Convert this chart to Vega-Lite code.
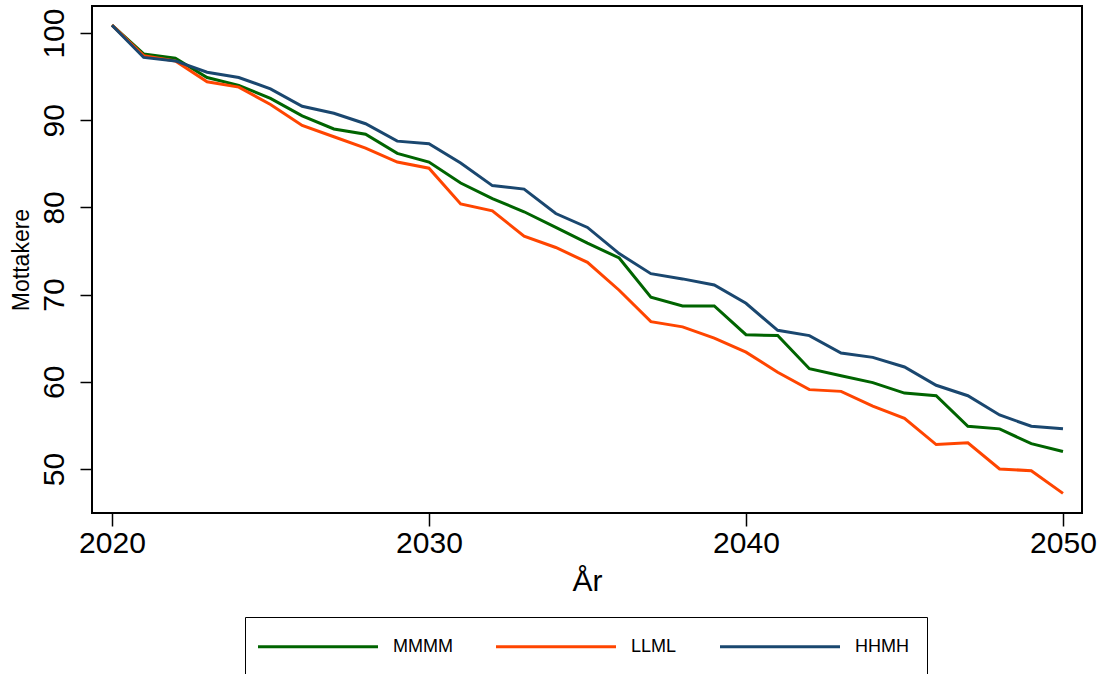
{
  "$schema": "https://vega.github.io/schema/vega-lite/v6.json",
  "width": 990,
  "height": 507,
  "autosize": {"type": "none"},
  "padding": {"left": 92, "top": 6, "right": 23, "bottom": 161},
  "background": "white",
  "config": {
    "view": {"stroke": "black", "strokeWidth": 2},
    "font": "Liberation Sans"
  },
  "data": {
    "values": [
      {"year": 2020, "scenario": "MMMM", "value": 100.9},
      {"year": 2021, "scenario": "MMMM", "value": 97.6},
      {"year": 2022, "scenario": "MMMM", "value": 97.1},
      {"year": 2023, "scenario": "MMMM", "value": 94.9},
      {"year": 2024, "scenario": "MMMM", "value": 94.0},
      {"year": 2025, "scenario": "MMMM", "value": 92.5},
      {"year": 2026, "scenario": "MMMM", "value": 90.5},
      {"year": 2027, "scenario": "MMMM", "value": 89.0},
      {"year": 2028, "scenario": "MMMM", "value": 88.4},
      {"year": 2029, "scenario": "MMMM", "value": 86.2},
      {"year": 2030, "scenario": "MMMM", "value": 85.2},
      {"year": 2031, "scenario": "MMMM", "value": 82.8},
      {"year": 2032, "scenario": "MMMM", "value": 81.0},
      {"year": 2033, "scenario": "MMMM", "value": 79.5},
      {"year": 2034, "scenario": "MMMM", "value": 77.7},
      {"year": 2035, "scenario": "MMMM", "value": 75.9},
      {"year": 2036, "scenario": "MMMM", "value": 74.2},
      {"year": 2037, "scenario": "MMMM", "value": 69.7},
      {"year": 2038, "scenario": "MMMM", "value": 68.7},
      {"year": 2039, "scenario": "MMMM", "value": 68.7},
      {"year": 2040, "scenario": "MMMM", "value": 65.4},
      {"year": 2041, "scenario": "MMMM", "value": 65.3},
      {"year": 2042, "scenario": "MMMM", "value": 61.5},
      {"year": 2043, "scenario": "MMMM", "value": 60.7},
      {"year": 2044, "scenario": "MMMM", "value": 59.9},
      {"year": 2045, "scenario": "MMMM", "value": 58.7},
      {"year": 2046, "scenario": "MMMM", "value": 58.4},
      {"year": 2047, "scenario": "MMMM", "value": 54.9},
      {"year": 2048, "scenario": "MMMM", "value": 54.6},
      {"year": 2049, "scenario": "MMMM", "value": 52.9},
      {"year": 2050, "scenario": "MMMM", "value": 52.0},
      {"year": 2020, "scenario": "LLML", "value": 100.9},
      {"year": 2021, "scenario": "LLML", "value": 97.4},
      {"year": 2022, "scenario": "LLML", "value": 96.8},
      {"year": 2023, "scenario": "LLML", "value": 94.4},
      {"year": 2024, "scenario": "LLML", "value": 93.8},
      {"year": 2025, "scenario": "LLML", "value": 91.8},
      {"year": 2026, "scenario": "LLML", "value": 89.4},
      {"year": 2027, "scenario": "LLML", "value": 88.1},
      {"year": 2028, "scenario": "LLML", "value": 86.8},
      {"year": 2029, "scenario": "LLML", "value": 85.2},
      {"year": 2030, "scenario": "LLML", "value": 84.5},
      {"year": 2031, "scenario": "LLML", "value": 80.4},
      {"year": 2032, "scenario": "LLML", "value": 79.6},
      {"year": 2033, "scenario": "LLML", "value": 76.7},
      {"year": 2034, "scenario": "LLML", "value": 75.4},
      {"year": 2035, "scenario": "LLML", "value": 73.7},
      {"year": 2036, "scenario": "LLML", "value": 70.5},
      {"year": 2037, "scenario": "LLML", "value": 66.9},
      {"year": 2038, "scenario": "LLML", "value": 66.3},
      {"year": 2039, "scenario": "LLML", "value": 65.0},
      {"year": 2040, "scenario": "LLML", "value": 63.4},
      {"year": 2041, "scenario": "LLML", "value": 61.1},
      {"year": 2042, "scenario": "LLML", "value": 59.1},
      {"year": 2043, "scenario": "LLML", "value": 58.9},
      {"year": 2044, "scenario": "LLML", "value": 57.2},
      {"year": 2045, "scenario": "LLML", "value": 55.8},
      {"year": 2046, "scenario": "LLML", "value": 52.8},
      {"year": 2047, "scenario": "LLML", "value": 53.0},
      {"year": 2048, "scenario": "LLML", "value": 50.0},
      {"year": 2049, "scenario": "LLML", "value": 49.8},
      {"year": 2050, "scenario": "LLML", "value": 47.2},
      {"year": 2020, "scenario": "HHMH", "value": 100.9},
      {"year": 2021, "scenario": "HHMH", "value": 97.2},
      {"year": 2022, "scenario": "HHMH", "value": 96.8},
      {"year": 2023, "scenario": "HHMH", "value": 95.5},
      {"year": 2024, "scenario": "HHMH", "value": 94.9},
      {"year": 2025, "scenario": "HHMH", "value": 93.6},
      {"year": 2026, "scenario": "HHMH", "value": 91.6},
      {"year": 2027, "scenario": "HHMH", "value": 90.8},
      {"year": 2028, "scenario": "HHMH", "value": 89.6},
      {"year": 2029, "scenario": "HHMH", "value": 87.6},
      {"year": 2030, "scenario": "HHMH", "value": 87.3},
      {"year": 2031, "scenario": "HHMH", "value": 85.1},
      {"year": 2032, "scenario": "HHMH", "value": 82.5},
      {"year": 2033, "scenario": "HHMH", "value": 82.1},
      {"year": 2034, "scenario": "HHMH", "value": 79.3},
      {"year": 2035, "scenario": "HHMH", "value": 77.7},
      {"year": 2036, "scenario": "HHMH", "value": 74.7},
      {"year": 2037, "scenario": "HHMH", "value": 72.4},
      {"year": 2038, "scenario": "HHMH", "value": 71.8},
      {"year": 2039, "scenario": "HHMH", "value": 71.1},
      {"year": 2040, "scenario": "HHMH", "value": 69.0},
      {"year": 2041, "scenario": "HHMH", "value": 65.9},
      {"year": 2042, "scenario": "HHMH", "value": 65.3},
      {"year": 2043, "scenario": "HHMH", "value": 63.3},
      {"year": 2044, "scenario": "HHMH", "value": 62.8},
      {"year": 2045, "scenario": "HHMH", "value": 61.7},
      {"year": 2046, "scenario": "HHMH", "value": 59.6},
      {"year": 2047, "scenario": "HHMH", "value": 58.4},
      {"year": 2048, "scenario": "HHMH", "value": 56.2},
      {"year": 2049, "scenario": "HHMH", "value": 54.9},
      {"year": 2050, "scenario": "HHMH", "value": 54.6}
    ]
  },
  "mark": {"type": "line", "strokeWidth": 3, "clip": true},
  "encoding": {
    "x": {
      "field": "year",
      "type": "quantitative",
      "scale": {"domain": [2019.37, 2050.6], "nice": false, "zero": false},
      "axis": {
        "values": [2020, 2030, 2040, 2050],
        "format": "d",
        "grid": false,
        "domain": false,
        "tickColor": "black",
        "tickSize": 13,
        "tickWidth": 1.5,
        "labelFontSize": 30,
        "labelColor": "black",
        "labelPadding": 2,
        "labelFlush": false,
        "labelOverlap": false,
        "title": "År",
        "titleFontSize": 30,
        "titleFontWeight": "normal",
        "titleColor": "black",
        "titleBaseline": "alphabetic",
        "titleY": 77
      }
    },
    "y": {
      "field": "value",
      "type": "quantitative",
      "scale": {"domain": [44.95, 103.1], "nice": false, "zero": false},
      "axis": {
        "values": [50, 60, 70, 80, 90, 100],
        "grid": false,
        "domain": false,
        "tickColor": "black",
        "tickSize": 12,
        "tickWidth": 1.5,
        "labelFontSize": 30,
        "labelColor": "black",
        "labelAngle": -90,
        "labelAlign": "center",
        "labelBaseline": "alphabetic",
        "labelPadding": 17,
        "labelOverlap": false,
        "labelFlush": false,
        "title": "Mottakere",
        "titleFontSize": 23,
        "titleFontWeight": "normal",
        "titleColor": "black",
        "titleAngle": -90,
        "titleBaseline": "alphabetic",
        "titleX": -64,
        "titleY": 253.5
      }
    },
    "color": {
      "field": "scenario",
      "type": "nominal",
      "sort": ["MMMM", "LLML", "HHMH"],
      "scale": {"domain": ["MMMM", "LLML", "HHMH"], "range": ["#006400", "#ff4500", "#1a476f"]},
      "legend": {
        "title": null,
        "orient": "none",
        "legendX": 153,
        "legendY": 611,
        "direction": "horizontal",
        "strokeColor": "black",
        "padding": 18,
        "symbolType": "M-1.65,0H10.35",
        "symbolSize": 400,
        "symbolStrokeWidth": 3,
        "labelFontSize": 18,
        "labelColor": "black",
        "labelOffset": 107,
        "columnPadding": 37
      }
    }
  }
}
